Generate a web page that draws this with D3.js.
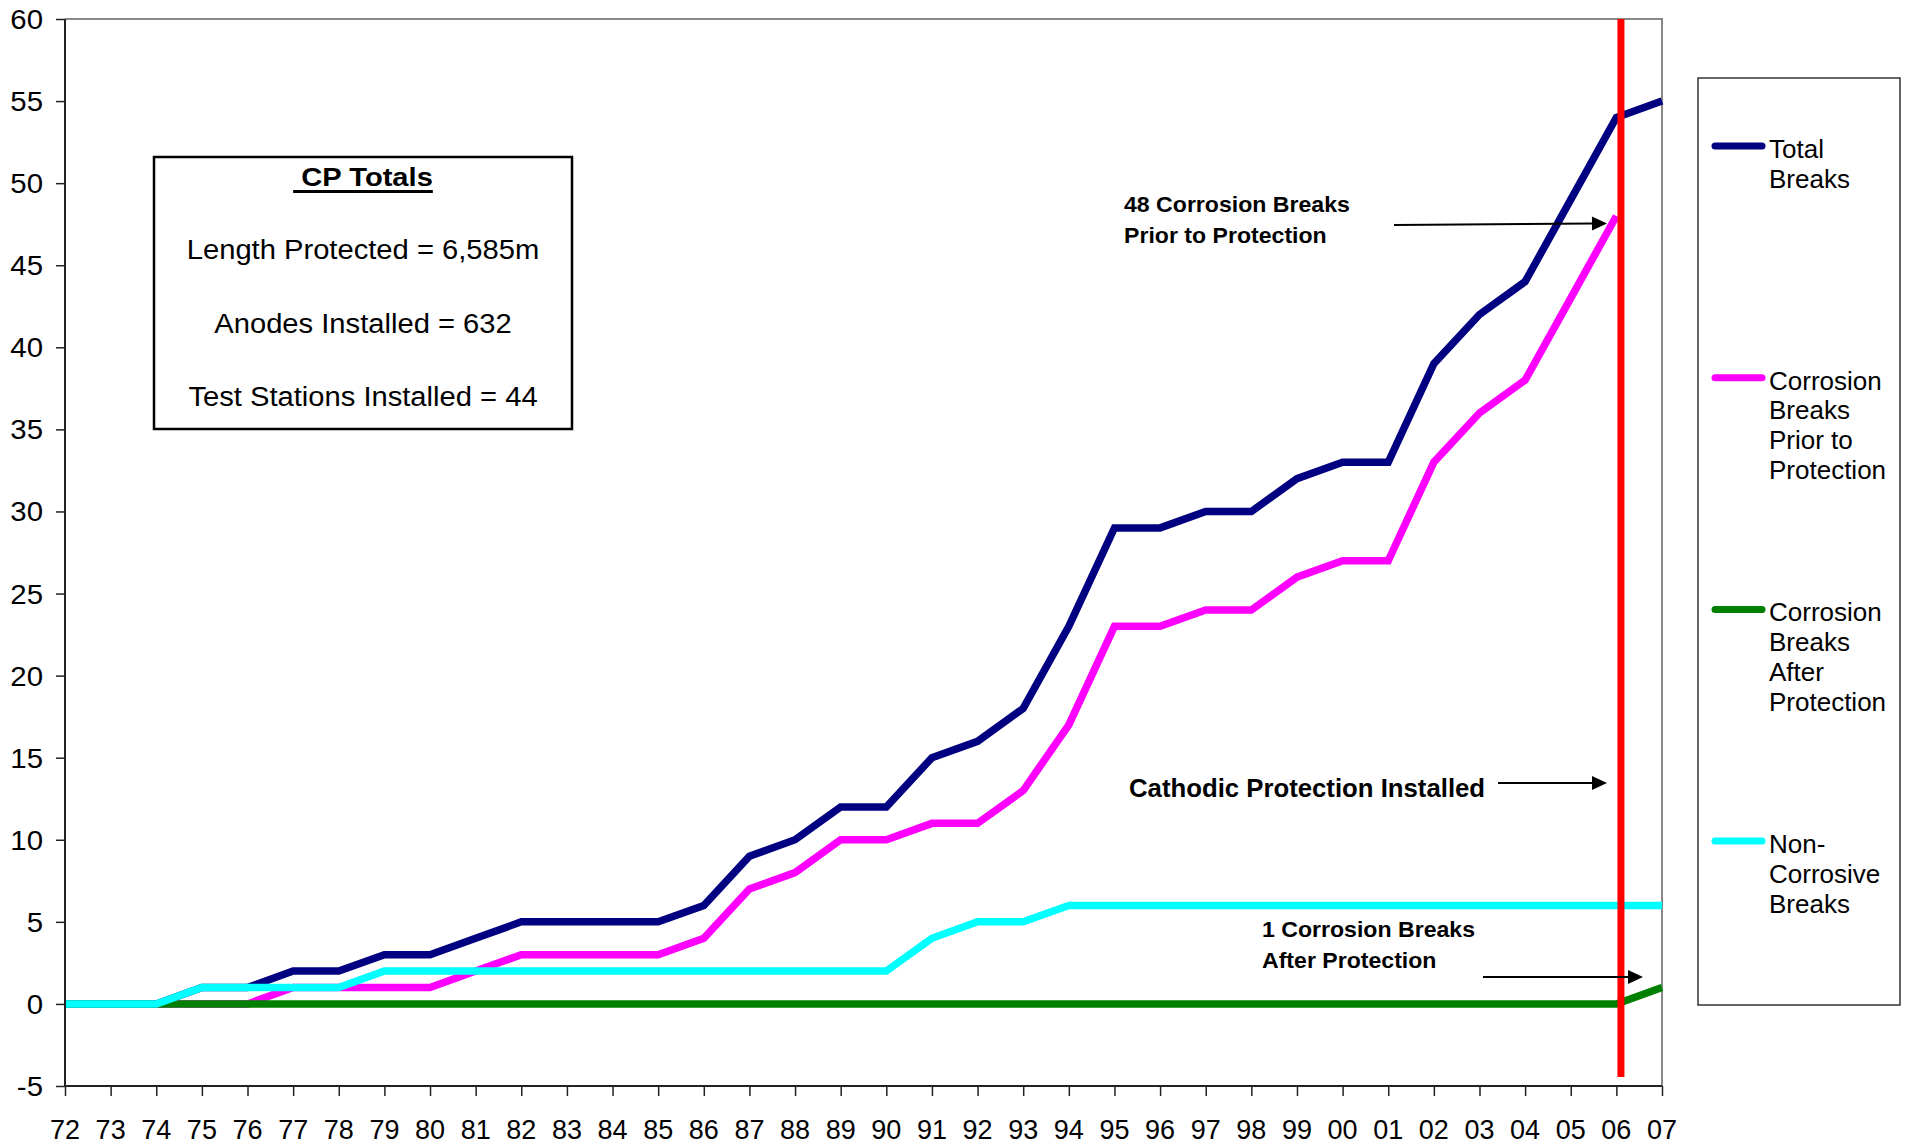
<!DOCTYPE html>
<html>
<head>
<meta charset="utf-8">
<script src="https://cdn.jsdelivr.net/npm/d3@7"></script>
<style>
  html, body { margin: 0; padding: 0; background: #fff; }
  svg { display: block; font-family: "Liberation Sans", Arial, sans-serif; }
</style>
</head>
<body>
<svg id="chart" width="1910" height="1148"></svg>
<script>
// Break counts per year (two-digit years, 1972 to 2007)
const years = ["72","73","74","75","76","77","78","79","80","81","82","83","84","85","86","87","88","89",
               "90","91","92","93","94","95","96","97","98","99","00","01","02","03","04","05","06","07"];
const totalBreaks    = [0,0,0,1,1,2,2,3,3,4, 5,5,5,5,6,9,10,12,12,15, 16,18,23,29,29,30,30,32,33,33, 39,42,44,49,54,55];
const corrosionPrior = [0,0,0,0,0,1,1,1,1,2, 3,3,3,3,4,7,8,10,10,11, 11,13,17,23,23,24,24,26,27,27, 33,36,38,43,48];
const corrosionAfter = [0,0,0,0,0,0,0,0,0,0, 0,0,0,0,0,0,0,0,0,0, 0,0,0,0,0,0,0,0,0,0, 0,0,0,0,0,1];
const nonCorrosive   = [0,0,0,1,1,1,1,2,2,2, 2,2,2,2,2,2,2,2,2,4, 5,5,6,6,6,6,6,6,6,6, 6,6,6,6,6,6];
const yTicks = [-5,0,5,10,15,20,25,30,35,40,45,50,55,60];

const seriesNames  = [["Total","Breaks"], ["Corrosion","Breaks","Prior to","Protection"],
                      ["Corrosion","Breaks","After","Protection"], ["Non-","Corrosive","Breaks"]];
const seriesValues = [totalBreaks, corrosionPrior, corrosionAfter, nonCorrosive];
const seriesColors = ["#000080", "#ff00ff", "#008000", "#00ffff"];

// Cathodic protection installed shortly after the 06 point
const cpInstalledAt = 34.1;
const cpTotals = ["Length Protected = 6,585m", "Anodes Installed = 632", "Test Stations Installed = 44"];

const svg = d3.select("#chart");
const plot = { left: 65, right: 1662, top: 19, bottom: 1086 };

const x = d3.scaleLinear().domain([0, years.length - 1]).range([plot.left, plot.right]);
const y = d3.scaleLinear().domain([-5, 60]).range([plot.bottom, plot.top]);

// Text helper with a slight horizontal stretch
function label(g, px, py, str, opt) {
  const o = Object.assign({ size: 26, weight: "normal", anchor: "start", sx: 1 }, opt || {});
  return g.append("text")
    .attr("transform", `translate(${px},${py}) scale(${o.sx},1)`)
    .attr("font-size", o.size)
    .attr("font-weight", o.weight)
    .attr("text-anchor", o.anchor)
    .attr("fill", "#000")
    .text(str);
}

// Plot frame: grey top and right edges
svg.append("path")
  .attr("d", `M${plot.left},${plot.top}H${plot.right}V${plot.bottom}`)
  .attr("fill", "none").attr("stroke", "#888").attr("stroke-width", 2);

// Series lines
const line = d3.line().x((d, i) => x(i)).y(d => y(d));
const lines = svg.append("g");
seriesValues.forEach((vals, k) => {
  lines.append("path")
    .datum(vals)
    .attr("d", line)
    .attr("fill", "none")
    .attr("stroke", seriesColors[k])
    .attr("stroke-width", 7.5)
    .attr("stroke-linejoin", "miter");
});

// Cathodic protection marker
svg.append("line")
  .attr("x1", x(cpInstalledAt)).attr("x2", x(cpInstalledAt))
  .attr("y1", y(60)).attr("y2", y(-4.45))
  .attr("stroke", "#ff0000").attr("stroke-width", 7);

// Axes
const yAxis = svg.append("g").attr("transform", `translate(${plot.left},0)`)
  .call(d3.axisLeft(y).tickValues(yTicks).tickSize(9).tickPadding(0).tickFormat(""));
const xAxis = svg.append("g").attr("transform", `translate(0,${plot.bottom})`)
  .call(d3.axisBottom(x).tickValues(d3.range(years.length)).tickSize(10).tickFormat(""));
[yAxis, xAxis].forEach(a => {
  a.select(".domain").attr("stroke", "#222").attr("stroke-width", 2);
  a.selectAll(".tick line").attr("stroke", "#222").attr("stroke-width", 1.5);
});
// replace the domain ends so the axes meet cleanly
yAxis.select(".domain").attr("d", `M0,${plot.top}V${plot.bottom}`);
xAxis.select(".domain").attr("d", `M${plot.left},0H${plot.right}`);

const yLabels = svg.append("g");
yTicks.forEach(t => label(yLabels, 43, y(t) + 10, String(t), { size: 28, anchor: "end", sx: 1.05 }));
const xLabels = svg.append("g");
years.forEach((yr, i) => label(xLabels, x(i), 1139, yr, { size: 27, anchor: "middle" }));

// CP totals box
const box = svg.append("g");
box.append("rect").attr("x", 154).attr("y", 157).attr("width", 418).attr("height", 272)
  .attr("fill", "#fff").attr("stroke", "#000").attr("stroke-width", 2.5);
const title = label(box, 363, 186, "\u00a0CP Totals", { size: 26, weight: "bold", anchor: "middle", sx: 1.12 });
const tw = title.node().getComputedTextLength() * 1.12;
box.append("rect").attr("x", 363 - tw / 2).attr("y", 190).attr("width", tw).attr("height", 3).attr("fill", "#000");
cpTotals.forEach((s, i) => label(box, 363, 259 + i * 73.5, s, { size: 27, anchor: "middle", sx: 1.08 }));

// Annotations with arrows
const ann = svg.append("g");
function arrow(x1, y1, x2, y2) {
  const ang = Math.atan2(y2 - y1, x2 - x1), L = 15, W = 7;
  const bx = x2 - L * Math.cos(ang), by = y2 - L * Math.sin(ang);
  ann.append("line").attr("x1", x1).attr("y1", y1).attr("x2", bx).attr("y2", by)
    .attr("stroke", "#000").attr("stroke-width", 2);
  ann.append("path")
    .attr("d", `M${x2},${y2}L${bx - W * Math.sin(ang)},${by + W * Math.cos(ang)}L${bx + W * Math.sin(ang)},${by - W * Math.cos(ang)}Z`)
    .attr("fill", "#000");
}
label(ann, 1124, 212, "48 Corrosion Breaks", { size: 22, weight: "bold", sx: 1.05 });
label(ann, 1124, 243, "Prior to Protection", { size: 22, weight: "bold", sx: 1.05 });
arrow(1394, 225, 1607, 223.5);

label(ann, 1129, 797, "Cathodic Protection Installed", { size: 25.5, weight: "bold", sx: 1.01 });
arrow(1498, 783, 1607, 783);

label(ann, 1262, 937, "1 Corrosion Breaks", { size: 22, weight: "bold", sx: 1.05 });
label(ann, 1262, 968, "After Protection", { size: 22, weight: "bold", sx: 1.05 });
arrow(1483, 977, 1643, 977);

// Legend
const legend = svg.append("g");
legend.append("rect").attr("x", 1698).attr("y", 78).attr("width", 202).attr("height", 927)
  .attr("fill", "#fff").attr("stroke", "#333").attr("stroke-width", 1.5);
seriesNames.forEach((names, k) => {
  const ly = 146 + k * 231.7;
  legend.append("line").attr("x1", 1715).attr("x2", 1762).attr("y1", ly).attr("y2", ly)
    .attr("stroke", seriesColors[k]).attr("stroke-width", 7).attr("stroke-linecap", "round");
  names.forEach((n, j) => label(legend, 1769, ly + 12 + j * 29.7, n, { size: 26 }));
});
</script>
</body>
</html>
